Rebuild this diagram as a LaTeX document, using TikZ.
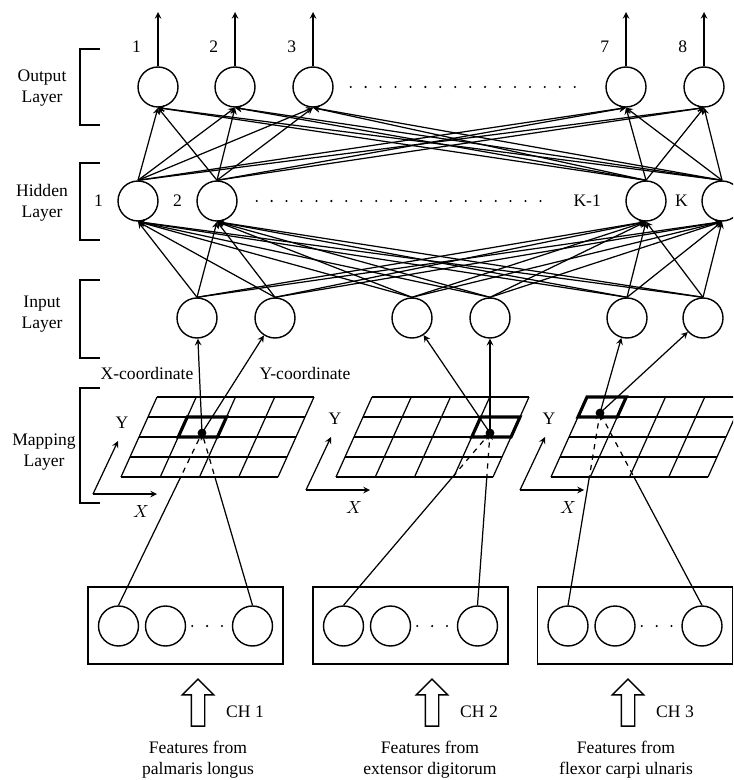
\documentclass[tikz,border=0pt]{standalone}
\usepackage{fontspec}
\setmainfont{Liberation Serif}
\usetikzlibrary{shapes.arrows}

\begin{document}
\begin{tikzpicture}[>=stealth, x=0.02cm, y=-0.02cm, line width=0.7pt,
    neuron/.style={draw, circle, minimum size=0.8cm, inner sep=0pt, line width=0.8pt},
    layername/.style={align=center, inner sep=1pt},
    bracket/.style={line width=0.9pt},
    dots/.style={line width=1.3pt, line cap=round, dash pattern=on 0pt off 8.5pt},
    featbox/.style={draw, minimum width=3.9cm, minimum height=1.54cm, inner sep=0pt, line width=0.8pt},
    hollow/.style={draw, single arrow, rotate=90, minimum height=0.94cm, inner xsep=0pt, inner ysep=0.12cm,
        single arrow head extend=0.18cm, single arrow head indent=0pt, line width=0.8pt},
    cell/.style={line width=1.8pt}]
    \useasboundingbox (0,0) rectangle (733,780);
    \clip (0,0) rectangle (733,780);

    % layer names with brackets
    \node[layername] (nout) at (42,88) {Output\\Layer};
    \node[layername] (nhid) at (42,203) {Hidden\\Layer};
    \node[layername] (ninp) at (42,314) {Input\\Layer};
    \node[layername] (nmap) at (44,452) {Mapping\\Layer};
    \foreach \ya/\yb in {49/125, 163/240, 280/358, 388/503}
        \draw[bracket] (100,\ya) -- (80,\ya) -- (80,\yb) -- (100,\yb);

    % output layer
    \foreach \n/\x/\lab in {1/158/1, 2/235/2, 3/313/3, 4/626/7, 5/704/8} {
        \node[neuron] (out\n) at (\x,87) {};
        \coordinate (top\n) at (\x,12);
        \draw[->] (out\n) -- (top\n) node[pos=0.36, left=0.21cm] {\lab};
    }
    \draw[dots, shorten <=0.34cm, shorten >=0.56cm] (out3) -- (out4);

    % hidden layer
    \foreach \n/\x/\lab/\d in {1/138/1/0.16cm, 2/217/2/0.16cm, 3/646/K-1/0.36cm, 4/722/K/0.14cm}
        \node[neuron, label={[label distance=\d]left:\lab}] (hid\n) at (\x,201) {};
    \draw[dots, shorten <=0.38cm, shorten >=1.44cm] (hid2) -- (hid3);

    % input layer
    \foreach \n/\x in {1/197, 2/275, 3/412, 4/490, 5/627, 6/703}
        \node[neuron] (in\n) at (\x,318) {};

    \foreach \i in {1,...,6}
        \foreach \j in {1,...,4}
            \draw[->] (in\i.north) -- (hid\j.south);
    \foreach \j in {1,...,4}
        \foreach \k in {1,...,5}
            \draw[->] (hid\j.north) -- (out\k.south);

    \node (xco) at (147,373) {X-coordinate};
    \node (yco) at (305,373) {Y-coordinate};

    % mapping layer
    \foreach \gx in {157,372,587} {
        \foreach \i in {0,...,4}
            \draw (\gx+39.25*\i,397) -- (\gx+39.25*\i-36,477);
        \foreach \j in {0,...,4}
            \draw[line width=0.9pt] (\gx-9*\j,397+20*\j) -- (\gx+157-9*\j,397+20*\j);
    }
    \foreach \gx/\i/\j in {157/1/1, 372/3/1, 587/0/0}
        \draw[cell] (\gx+39.25*\i-9*\j,397+20*\j) -- ++(39.25,0) -- ++(-9,20) -- ++(-39.25,0) -- cycle;

    \foreach \g/\cx/\cy in {1/93/494, 2/306/490, 3/520/490} {
        \coordinate (ax\g) at (\cx,\cy);
        \coordinate (axy\g) at (\cx+25,\cy-53);
        \coordinate (axx\g) at (\cx+64,\cy);
        \draw[->] (ax\g) -- (axy\g);
        \draw[->] (ax\g) -- (axx\g);
        \node (ylab\g) at (\cx+29,\cy-71) {Y};
        \node (xlab\g) at (\cx+48,\cy+17) {$X$};
    }

    % feature boxes
    \foreach \b/\bx/\ax/\txt/\tx in {1/185.5/198/palmaris longus/198, 2/410.5/432/extensor digitorum/430, 3/635/628/flexor carpi ulnaris/626} {
        \node[featbox] (box\b) at (\bx,625.5) {};
        \node[neuron] (f\b1) at (\bx-67,626) {};
        \node[neuron] (f\b2) at (\bx-20,626) {};
        \node[neuron] (f\b3) at (\bx+67,626) {};
        \draw[dots, shorten <=0.12cm, shorten >=0.18cm] (f\b2) -- (f\b3);
        \node[hollow] (up\b) at (\ax,706) {};
        \node (ch\b) at (\ax+47,712) {CH \b};
        \node[align=center] (src\b) at (\tx,760) {Features from\\\txt};
    }

    \foreach \g/\dx/\dy in {1/202/433, 2/490/433, 3/600/413} {
        \coordinate (d\g) at (\dx,\dy);
        \fill (d\g) circle (2.5pt);
    }

    % below the grid: solid, inside: dashed
    \begin{scope}
        \clip (0,477) rectangle (733,780);
        \foreach \g in {1,2,3} {
            \draw (f\g1.north) -- (d\g);
            \draw (f\g3.north) -- (d\g);
        }
    \end{scope}
    \begin{scope}
        \clip (0,0) rectangle (733,477);
        \foreach \g in {1,2,3} {
            \draw[dashed, ->] (f\g1.north) -- (d\g);
            \draw[dashed, ->] (f\g3.north) -- (d\g);
        }
    \end{scope}

    \foreach \g/\a/\b in {1/1/2, 2/3/4, 3/5/6} {
        \draw[->] (d\g) -- (in\a);
        \draw[->] (d\g) -- (in\b);
    }
\end{tikzpicture}
\end{document}
